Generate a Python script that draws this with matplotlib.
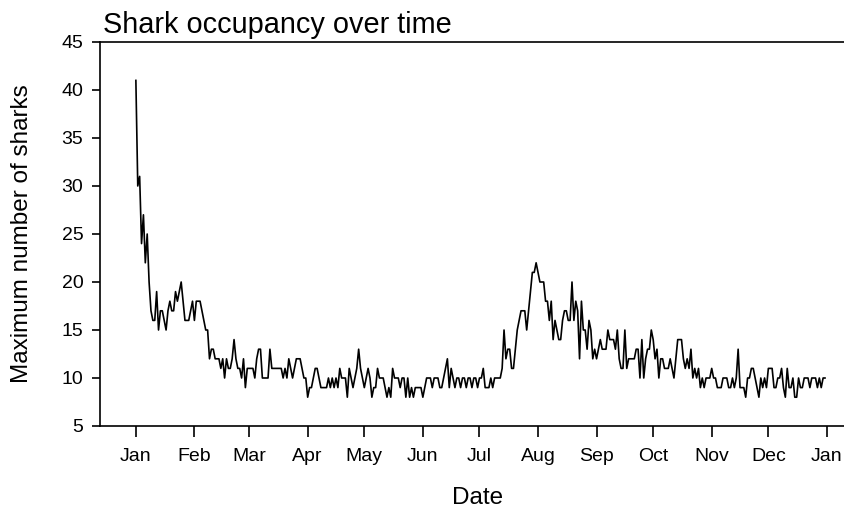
import numpy as np
import pandas as pd
import matplotlib
matplotlib.use("Agg")
import matplotlib.pyplot as plt

# daily maximum shark counts, one list per month (2016, leap year)
jan = [41, 30, 31, 24, 27, 22, 25, 20, 17, 16, 16, 19, 15, 17, 17, 16, 15, 17, 18, 17,
       17, 19, 18, 19, 20, 18, 16, 16, 16, 17, 18]
feb = [16, 18, 18, 18, 17, 16, 15, 15, 12, 13, 13, 12, 12, 12, 11, 12, 10, 12, 11, 11,
       12, 14, 12, 11, 11, 10, 12, 9, 11]
mar = [11, 11, 11, 10, 12, 13, 13, 10, 10, 10, 10, 13, 11, 11, 11, 11, 11, 11, 10, 11,
       10, 12, 11, 10, 11, 12, 12, 12, 11, 10, 10]
apr = [8, 9, 9, 10, 11, 11, 10, 9, 9, 9, 9, 10, 9, 10, 9, 10, 9, 11, 10, 10,
       10, 8, 11, 10, 9, 10, 11, 13, 11, 10]
may = [9, 10, 11, 10, 8, 9, 9, 11, 10, 10, 10, 9, 8, 9, 8, 11, 10, 10, 10, 9,
       10, 10, 8, 10, 8, 9, 8, 9, 9, 9, 9]
jun = [8, 9, 10, 10, 10, 9, 10, 10, 10, 9, 9, 10, 11, 12, 9, 11, 10, 9, 10, 10,
       9, 10, 10, 9, 10, 10, 9, 10, 10, 9]
jul = [10, 10, 11, 9, 9, 9, 10, 9, 10, 10, 10, 10, 11, 15, 12, 13, 13, 11, 11, 13,
       15, 16, 17, 17, 17, 15, 17, 19, 21, 21, 22]
aug = [21, 20, 20, 20, 18, 18, 16, 18, 14, 16, 15, 14, 14, 16, 17, 17, 16, 16, 20, 16,
       18, 17, 12, 18, 15, 15, 13, 16, 15, 12, 13]
sep = [12, 13, 14, 13, 13, 13, 15, 14, 14, 14, 13, 15, 12, 11, 11, 15, 11, 12, 12, 12,
       12, 13, 13, 10, 14, 10, 12, 13, 13, 15]
oct_ = [14, 12, 13, 10, 12, 12, 11, 11, 11, 12, 11, 10, 12, 14, 14, 14, 12, 11, 12, 11,
        13, 10, 11, 10, 11, 9, 10, 9, 10, 10, 10]
nov = [11, 10, 10, 9, 9, 9, 10, 10, 10, 9, 9, 10, 9, 10, 13, 9, 9, 9, 8, 10,
       10, 11, 11, 10, 9, 8, 10, 9, 10, 9]
dec = [11, 11, 11, 9, 9, 10, 10, 11, 9, 8, 11, 9, 9, 10, 8, 8, 10, 9, 9, 10,
       10, 10, 9, 10, 10, 10, 9, 10, 9, 10, 10]

counts = jan + feb + mar + apr + may + jun + jul + aug + sep + oct_ + nov + dec
dates = pd.date_range("2016-01-01", periods=len(counts), freq="D")
month_ticks = pd.date_range("2016-01-01", "2017-01-01", freq="MS")
y_ticks = [5, 10, 15, 20, 25, 30, 35, 40, 45]

plt.rcParams['font.family'] = ['Liberation Sans', 'DejaVu Sans']

W, H = 844, 517
fig = plt.figure(figsize=(W / 100, H / 100), dpi=100)

# plot region in pixels (runs off the right edge like the original)
left, right, top, bottom = 100, 850, 42, 426
ax = fig.add_axes([left / W, 1 - bottom / H, (right - left) / W, (bottom - top) / H])

ax.plot(dates, counts, color='black', linewidth=1.2)

ax.set_ylim(5, 45)
ax.set_yticks(y_ticks)
x0 = pd.Timestamp("2016-01-01") - pd.Timedelta(days=19)
x1 = x0 + pd.Timedelta(days=(right - left) / 1.888)
ax.set_xlim(x0, x1)
ax.set_xticks(month_ticks)
ax.set_xticklabels([d.strftime('%b') for d in month_ticks])

ax.spines['right'].set_visible(False)
for s in ['left', 'top', 'bottom']:
    ax.spines[s].set_linewidth(1.2)
ax.tick_params(axis='y', length=6, width=1.2, pad=6, labelsize=14)
ax.tick_params(axis='x', length=8, width=1.2, pad=8, labelsize=14)

fig.text(103 / W, 1 - 33 / H, 'Shark occupancy over time', fontsize=20.8,
         ha='left', va='baseline')
fig.text(478 / W, 1 - 498 / H, 'Date', fontsize=17.5, ha='center', va='center')
fig.text(22 / W, 1 - 234 / H, 'Maximum number of sharks', fontsize=17.5,
         rotation=90, ha='center', va='center')

fig.savefig('out.png', dpi=100)
